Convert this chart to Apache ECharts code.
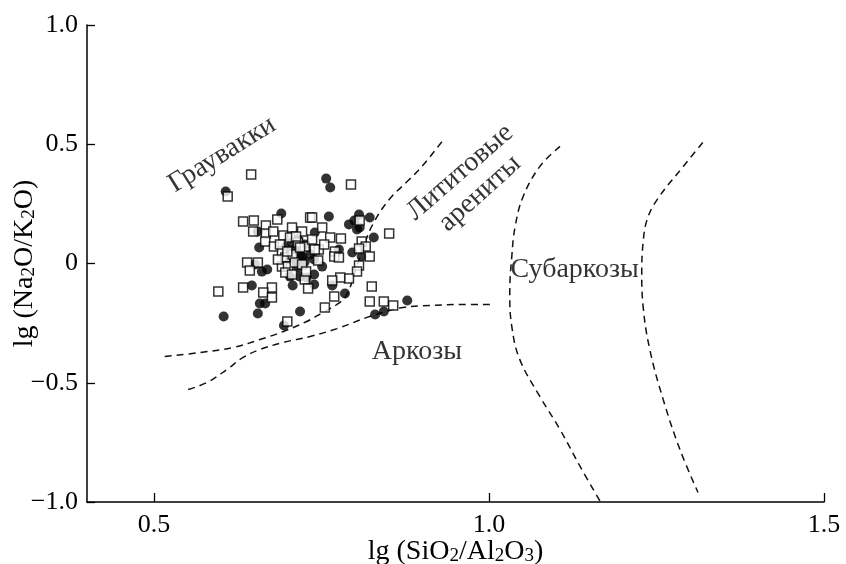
<!DOCTYPE html>
<html>
<head>
<meta charset="utf-8">
<script src="https://cdn.jsdelivr.net/npm/echarts@6/dist/echarts.min.js"></script>
<style>
  html, body { margin: 0; padding: 0; background: #fff; }
  #chart { width: 846px; height: 564px; }
</style>
</head>
<body>
<div id="chart"></div>
<script>
// Axis ticks shown on the SiO2/Al2O3 axis
const xTickValues = [0.5, 1.0, 1.5];

// Samples: open squares
const squarePoints = [
  [0.645, 0.373], [0.610, 0.281], [0.633, 0.176], [0.649, 0.180], [0.684, 0.184],
  [0.667, 0.159], [0.648, 0.134], [0.667, 0.126], [0.678, 0.134], [0.666, 0.092],
  [0.679, 0.071], [0.693, 0.117], [0.706, 0.151], [0.721, 0.134], [0.733, 0.193],
  [0.703, 0.109], [0.715, 0.088], [0.691, 0.050], [0.696, 0.025], [0.707, 0.038],
  [0.639, 0.004], [0.655, 0.004], [0.643, -0.029], [0.691, -0.013], [0.700, -0.013],
  [0.710, 0.004], [0.721, -0.004], [0.696, -0.038], [0.706, -0.046], [0.725, -0.067],
  [0.730, -0.105], [0.596, -0.117], [0.633, -0.101], [0.676, -0.101], [0.663, -0.122],
  [0.676, -0.143], [0.699, -0.243], [0.725, 0.071], [0.794, 0.331], [0.751, 0.151],
  [0.763, 0.109], [0.779, 0.105], [0.736, 0.193], [0.851, 0.126], [0.807, 0.180],
  [0.810, 0.092], [0.816, 0.071], [0.806, 0.063], [0.746, 0.059], [0.770, 0.050],
  [0.769, 0.029], [0.776, 0.025], [0.822, 0.029], [0.745, 0.013], [0.806, -0.008],
  [0.803, -0.034], [0.791, -0.063], [0.778, -0.059], [0.766, -0.071], [0.825, -0.096],
  [0.769, -0.138], [0.755, -0.184], [0.822, -0.159], [0.843, -0.159], [0.857, -0.176],
  [0.754, 0.080], [0.688, 0.080], [0.699, 0.050], [0.712, 0.113], [0.718, 0.067],
  [0.727, -0.034], [0.736, 0.101], [0.740, 0.059], [0.685, 0.017]
];

// Samples: filled circles
const dotPoints = [
  [0.607, 0.302], [0.690, 0.210], [0.655, 0.134], [0.657, 0.067], [0.651, -0.004],
  [0.661, -0.034], [0.669, -0.025], [0.646, -0.092], [0.658, -0.168], [0.666, -0.168],
  [0.604, -0.222], [0.655, -0.210], [0.718, -0.201], [0.694, -0.260], [0.703, -0.055],
  [0.707, -0.092], [0.718, -0.055], [0.728, -0.059], [0.721, 0.029], [0.706, 0.088],
  [0.715, 0.101], [0.757, 0.356], [0.763, 0.319], [0.761, 0.197], [0.791, 0.164],
  [0.799, 0.180], [0.806, 0.205], [0.822, 0.193], [0.803, 0.143], [0.807, 0.151],
  [0.828, 0.109], [0.776, 0.059], [0.796, 0.046], [0.810, 0.029], [0.739, 0.017],
  [0.751, -0.013], [0.739, -0.046], [0.739, -0.088], [0.766, -0.092], [0.785, -0.126],
  [0.878, -0.155], [0.843, -0.201], [0.830, -0.214], [0.740, 0.130], [0.710, 0.059],
  [0.718, 0.038], [0.725, 0.008], [0.715, -0.017], [0.703, 0.017], [0.725, 0.080],
  [0.733, 0.038], [0.696, 0.067], [0.712, 0.008]
];

// Field boundaries (dashed)
const lineGreywackeLitharenite = [
  [0.516, -0.390], [0.569, -0.373], [0.618, -0.352], [0.658, -0.319], [0.693, -0.285],
  [0.728, -0.243], [0.752, -0.205], [0.773, -0.172], [0.788, -0.130], [0.800, -0.034],
  [0.815, 0.088], [0.828, 0.172], [0.851, 0.268], [0.881, 0.352], [0.900, 0.407],
  [0.930, 0.512]
];
const lineArkose = [
  [0.551, -0.528], [0.579, -0.499], [0.609, -0.444], [0.633, -0.394], [0.658, -0.361],
  [0.693, -0.331], [0.733, -0.306], [0.773, -0.273], [0.818, -0.226], [0.842, -0.205],
  [0.872, -0.184], [0.912, -0.176], [0.957, -0.172], [1.006, -0.172]
];
const lineSubarkoseLeft = [
  [1.106, 0.491], [1.076, 0.407], [1.051, 0.281], [1.039, 0.155], [1.034, 0.029],
  [1.031, -0.122], [1.034, -0.264], [1.046, -0.403], [1.076, -0.558], [1.106, -0.696],
  [1.136, -0.851], [1.166, -0.998]
];
const lineSubarkoseRight = [
  [1.319, 0.507], [1.290, 0.407], [1.251, 0.268], [1.236, 0.184], [1.230, 0.088],
  [1.228, -0.038], [1.230, -0.180], [1.240, -0.361], [1.260, -0.570], [1.285, -0.780],
  [1.312, -0.960]
];

// Field names, anchored in data coordinates
const fieldNames  = ['Граувакки', 'Лититовые', 'арениты', 'Субаркозы', 'Аркозы'];
const fieldX      = [0.6015, 0.9567, 0.9866, 1.128, 0.8925];
const fieldY      = [0.457, 0.382, 0.294, -0.025, -0.369];
const fieldAngles = [32, 41, 42, 0, 0];

const SERIF = '"Liberation Serif", "Times New Roman", serif';
const INK = '#000';

const chart = echarts.init(document.getElementById('chart'), null, { renderer: 'canvas' });

// Rich text styles giving subscripts in the axis titles
const subRich = {
  n: { fontFamily: SERIF, fontSize: 28, color: INK, lineHeight: 34, verticalAlign: 'bottom' },
  s: { fontFamily: SERIF, fontSize: 19, color: INK, padding: [15, 0, 0, 0], verticalAlign: 'bottom' }
};

function boundary(data) {
  return {
    type: 'line',
    data: data,
    smooth: 0.4,
    showSymbol: false,
    silent: true,
    z: 1,
    lineStyle: { color: '#111', width: 1.5, type: [7, 5] }
  };
}

const option = {
  backgroundColor: '#fff',
  animation: false,
  grid: { left: 87, right: 22, top: 25, bottom: 62, containLabel: false, outerBoundsMode: 'none' },
  xAxis: {
    type: 'value',
    min: 0.4,
    max: 1.5,
    name: '{n|lg (SiO}{s|2}{n|/Al}{s|2}{n|O}{s|3}{n|)}',
    nameLocation: 'middle',
    nameGap: 30,
    nameMoveOverlap: false,
    nameTextStyle: { rich: subRich },
    axisLine: { onZero: false, lineStyle: { color: INK, width: 1.5 } },
    axisTick: { inside: true, length: 9, customValues: xTickValues, lineStyle: { color: INK, width: 1.3 } },
    axisLabel: {
      customValues: xTickValues,
      margin: 10,
      fontFamily: SERIF, fontSize: 26, color: INK,
      formatter: v => v.toFixed(1)
    },
    splitLine: { show: false }
  },
  yAxis: {
    type: 'value',
    min: -1,
    max: 1,
    interval: 0.5,
    name: '{n|lg (Na}{s|2}{n|O/K}{s|2}{n|O)}',
    nameLocation: 'middle',
    nameRotate: 90,
    nameGap: 48,
    nameMoveOverlap: false,
    nameTextStyle: { rich: subRich },
    axisLine: { onZero: false, lineStyle: { color: INK, width: 1.5 } },
    axisTick: { inside: true, length: 8, lineStyle: { color: INK, width: 1.3 } },
    axisLabel: {
      margin: 9,
      fontFamily: SERIF, fontSize: 26, color: INK,
      formatter: v => v === 0 ? '0' : (v < 0 ? '\u2212' + Math.abs(v).toFixed(1) : v.toFixed(1))
    },
    splitLine: { show: false }
  },
  series: [
    boundary(lineGreywackeLitharenite),
    boundary(lineArkose),
    boundary(lineSubarkoseLeft),
    boundary(lineSubarkoseRight),
    {
      type: 'scatter',
      data: dotPoints,
      symbol: 'circle',
      symbolSize: 10,
      silent: true,
      z: 2,
      itemStyle: { color: '#000' }
    },
    {
      type: 'scatter',
      data: squarePoints,
      symbol: 'rect',
      symbolSize: 9,
      silent: true,
      z: 3,
      itemStyle: { color: '#fff', borderColor: '#000', borderWidth: 1.5 }
    },
    {
      type: 'scatter',
      symbolSize: 0,
      silent: true,
      z: 4,
      data: fieldNames.map((name, i) => ({
        name: name,
        value: [fieldX[i], fieldY[i]],
        label: { rotate: fieldAngles[i] }
      })),
      label: {
        show: true,
        position: 'inside',
        formatter: p => p.name,
        fontFamily: SERIF,
        fontSize: 28,
        color: INK
      }
    }
  ]
};

chart.setOption(option);
</script>
</body>
</html>
